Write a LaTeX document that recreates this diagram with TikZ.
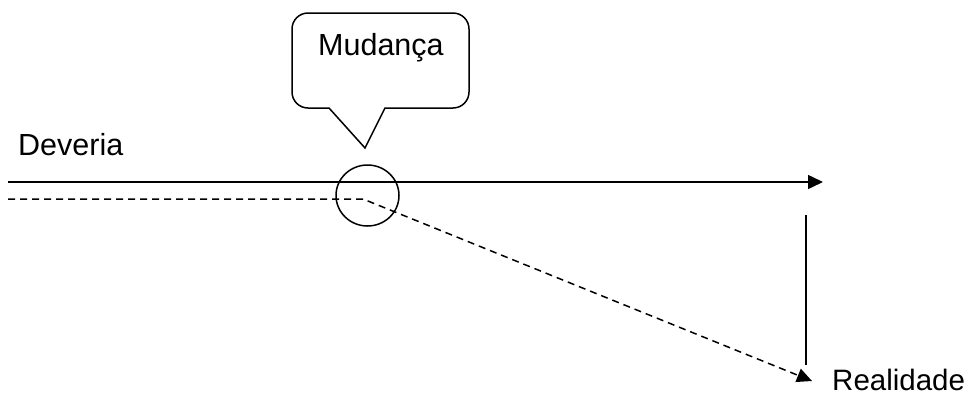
\documentclass[tikz,border=0pt]{standalone}
\usepackage{fontspec}
\setmainfont{Liberation Sans}
\usetikzlibrary{arrows.meta,shapes.geometric}
\begin{document}
\begin{tikzpicture}[x=1pt,y=-1pt,
  lbl/.style={anchor=base west,inner sep=0pt,font=\fontsize{30.5}{36}\selectfont},
  ln/.style={line width=1.5pt},
  dsh/.style={line width=1.5pt,dash pattern=on 7pt off 5pt},
  tip/.style={-{Triangle[length=15pt,width=14pt]}}]
\useasboundingbox (0,0) rectangle (971,397);
% texts
\node[lbl] (deveria) at (18,155) {Deveria};
\node[lbl] (mudanca) at (318,55) {Mudança};
\node[lbl,font=\fontsize{29.5}{36}\selectfont] (realidade) at (832,390) {Realidade};
% coordinates
\coordinate (s0) at (8,182);
\coordinate (s1) at (823,182);
\coordinate (d0) at (8,199);
\coordinate (bend) at (363,199);
\coordinate (d1) at (812,381);
\coordinate (v0) at (806,215);
\coordinate (v1) at (806,365);
\coordinate (ptr) at (365,148);
% callout
\draw[ln,line join=miter] (ptr) -- (329,108) [rounded corners=16pt] -- (292,108) -- (292,13) -- (469,13) -- (469,108) [sharp corners] -- (385,108) -- cycle;
% circle
\node[draw,ln,ellipse,minimum width=63pt,minimum height=61pt,inner sep=0pt] (change) at (367.5,195.5) {};
% lines
\draw[ln,tip] (s0) -- (s1);
\draw[dsh,tip] (d0) -- (bend) -- (d1);
\draw[ln] (v0) -- (v1);
\end{tikzpicture}
\end{document}
